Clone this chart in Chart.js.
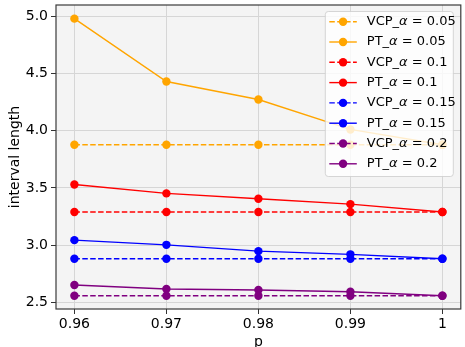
<!DOCTYPE html>
<html>
<head>
<meta charset="utf-8">
<script src="https://cdn.jsdelivr.net/npm/chart.js@4"></script>
<style>
  html, body { margin: 0; padding: 0; background: #fff; }
  #wrap { width: 465px; height: 347px; }
</style>
</head>
<body>
<div id="wrap"><canvas id="myChart" width="465" height="347"></canvas></div>
<script>
// values
const pValues = [0.96, 0.97, 0.98, 0.99, 1.0];
const alphas = ['0.05', '0.1', '0.15', '0.2'];
const colors = ['#ffa500', '#ff0000', '#0000ff', '#800080'];
const vcp05 = [3.876, 3.876, 3.876, 3.876, 3.876];
const pt05 = [4.977, 4.428, 4.271, 4.010, 3.876];
const vcp10 = [3.289, 3.289, 3.289, 3.289, 3.289];
const pt10 = [3.530, 3.452, 3.405, 3.358, 3.289];
const vcp15 = [2.881, 2.881, 2.881, 2.881, 2.881];
const pt15 = [3.044, 3.003, 2.948, 2.920, 2.881];
const vcp20 = [2.559, 2.559, 2.559, 2.559, 2.559];
const pt20 = [2.652, 2.617, 2.609, 2.594, 2.559];
const yTicks = [2.5, 3.0, 3.5, 4.0, 4.5, 5.0];

const series = [
    { name: 'VCP', alpha: 0, vals: vcp05, dashed: true },
    { name: 'PT', alpha: 0, vals: pt05, dashed: false },
    { name: 'VCP', alpha: 1, vals: vcp10, dashed: true },
    { name: 'PT', alpha: 1, vals: pt10, dashed: false },
    { name: 'VCP', alpha: 2, vals: vcp15, dashed: true },
    { name: 'PT', alpha: 2, vals: pt15, dashed: false },
    { name: 'VCP', alpha: 3, vals: vcp20, dashed: true },
    { name: 'PT', alpha: 3, vals: pt20, dashed: false },
];

const FONT = '"DejaVu Sans", sans-serif';
const DASH = [5.5, 2.4];

const datasets = series.map(s => ({
    label: s.name + '_α = ' + alphas[s.alpha],
    data: pValues.map((p, i) => ({ x: p, y: s.vals[i] })),
    borderColor: colors[s.alpha],
    backgroundColor: colors[s.alpha],
    borderWidth: 1.4,
    borderDash: s.dashed ? DASH : [],
    pointRadius: 4.2,
    pointHoverRadius: 4.2,
    pointBorderWidth: 0,
    showLine: true,
    tension: 0
}));

// light gray plot background
const bgPlugin = {
    id: 'plotBg',
    beforeDraw(chart) {
        const { ctx, chartArea: a } = chart;
        ctx.save();
        ctx.fillStyle = '#f4f4f4';
        ctx.fillRect(a.left, a.top, a.right - a.left, a.bottom - a.top);
        ctx.restore();
    }
};

// frame around the plot area
const framePlugin = {
    id: 'frame',
    afterDatasetsDraw(chart) {
        const { ctx, chartArea: a } = chart;
        ctx.save();
        ctx.strokeStyle = '#3a3a3a';
        ctx.lineWidth = 1.2;
        ctx.strokeRect(a.left, a.top, a.right - a.left, a.bottom - a.top);
        ctx.restore();
    }
};

// matplotlib-like legend inside the plot, upper right
const legendPlugin = {
    id: 'innerLegend',
    afterDraw(chart) {
        const ctx = chart.ctx;
        const a = chart.chartArea;
        const boxRight = a.right - 8;
        const boxTop = a.top + 6;
        const boxW = 128, boxH = 165;
        const boxLeft = boxRight - boxW;
        ctx.save();
        ctx.globalAlpha = 0.8;
        ctx.fillStyle = '#ffffff';
        ctx.strokeStyle = '#cccccc';
        ctx.lineWidth = 1;
        ctx.beginPath();
        ctx.roundRect(boxLeft + 0.5, boxTop + 0.5, boxW, boxH, 3);
        ctx.fill();
        ctx.stroke();
        ctx.globalAlpha = 1;
        ctx.textBaseline = 'middle';
        series.forEach((s, i) => {
            const y = boxTop + 10.7 + i * 20.3;
            const x0 = boxLeft + 4.5, x1 = boxLeft + 32;
            ctx.strokeStyle = colors[s.alpha];
            ctx.fillStyle = colors[s.alpha];
            ctx.lineWidth = 1.4;
            ctx.setLineDash(s.dashed ? DASH : []);
            ctx.beginPath();
            ctx.moveTo(x0, y);
            ctx.lineTo(x1, y);
            ctx.stroke();
            ctx.setLineDash([]);
            ctx.beginPath();
            ctx.arc((x0 + x1) / 2, y, 4.2, 0, Math.PI * 2);
            ctx.fill();
            let tx = boxLeft + 42;
            ctx.fillStyle = '#000';
            ctx.font = '13px ' + FONT;
            ctx.fillText(s.name + '_', tx, y);
            tx += ctx.measureText(s.name + '_').width;
            ctx.font = 'italic 13px ' + FONT;
            ctx.fillText('α', tx, y);
            tx += ctx.measureText('α').width;
            ctx.font = '13px ' + FONT;
            ctx.fillText(' = ' + alphas[s.alpha], tx, y);
        });
        ctx.restore();
    }
};

new Chart(document.getElementById('myChart').getContext('2d'), {
    type: 'scatter',
    data: { datasets: datasets },
    plugins: [bgPlugin, framePlugin, legendPlugin],
    options: {
        responsive: false,
        animation: false,
        devicePixelRatio: 1,
        layout: { padding: { left: 0, top: 5, right: 2, bottom: 0 } },
        plugins: {
            legend: { display: false },
            tooltip: { enabled: false }
        },
        scales: {
            x: {
                type: 'linear',
                min: 0.958,
                max: 1.002,
                afterBuildTicks(scale) {
                    scale.ticks = pValues.map(v => ({ value: v }));
                },
                afterFit(scale) {
                    scale.height = 38;
                    scale.paddingLeft = 0;
                    scale.paddingRight = 0;
                },
                ticks: {
                    color: '#000',
                    font: { family: FONT, size: 14 },
                    padding: 2,
                    callback: v => (v === 1 ? '1' : v.toFixed(2))
                },
                grid: { color: '#d6d6d6', lineWidth: 1, tickLength: 5, tickColor: '#333' },
                border: { display: false },
                title: {
                    display: true,
                    text: 'p',
                    color: '#000',
                    font: { family: FONT, size: 14 },
                    padding: { top: 0, bottom: -4 }
                }
            },
            y: {
                min: 2.443,
                max: 5.096,
                afterBuildTicks(scale) {
                    scale.ticks = yTicks.map(v => ({ value: v }));
                },
                afterFit(scale) {
                    scale.width = 56;
                    scale.paddingTop = 0;
                    scale.paddingBottom = 0;
                },
                ticks: {
                    color: '#000',
                    font: { family: FONT, size: 14 },
                    padding: 3,
                    callback: v => v.toFixed(1)
                },
                grid: { color: '#d6d6d6', lineWidth: 1, tickLength: 5, tickColor: '#333' },
                border: { display: false },
                title: {
                    display: true,
                    text: 'interval length',
                    color: '#000',
                    font: { family: FONT, size: 14 },
                    padding: { top: 7, bottom: 0 }
                }
            }
        }
    }
});
</script>
</body>
</html>
